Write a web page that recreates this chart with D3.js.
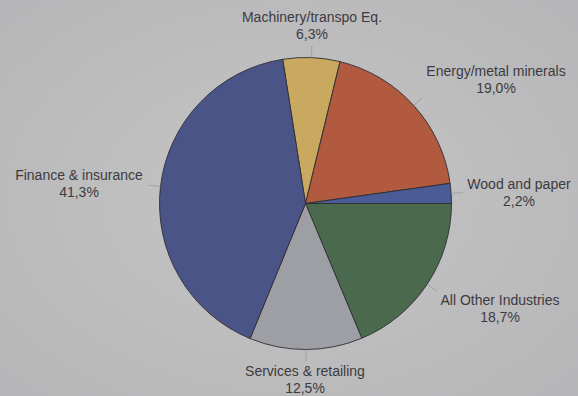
<!DOCTYPE html>
<html>
<head>
<meta charset="utf-8">
<script src="https://cdn.jsdelivr.net/npm/d3@7/dist/d3.min.js"></script>
<style>
  html, body { margin: 0; padding: 0; background: #bdbcbd; }
  svg { display: block; }
</style>
</head>
<body>
<svg id="chart" width="578" height="396"></svg>
<script>
// ---- data ----
const categories = ["Machinery/transpo Eq.", "Energy/metal minerals", "Wood and paper",
                    "All Other Industries", "Services & retailing", "Finance & insurance"];
const values = [6.3, 19.0, 2.2, 18.7, 12.5, 41.3];
const valueLabels = ["6,3%", "19,0%", "2,2%", "18,7%", "12,5%", "41,3%"];
const colors = ["#c9a85f", "#b15a40", "#4a5b96", "#4b6a4d", "#9d9fa5", "#4a5486"];

// ---- layout (not data) ----
const W = 578, H = 396;
const cx = 305.5, cy = 203.5, R = 146;
// label text centres (x) and first-line baseline (y)
const labelAnchors = [[312, 22], [496, 76], [519, 189], [500, 305], [305, 376], [79, 180]];
const lineGap = 17;

const svg = d3.select("#chart");

// background paper
const defs = svg.append("defs");
const grad = defs.append("radialGradient").attr("id", "paper")
  .attr("cx", "50%").attr("cy", "50%").attr("r", "70%");
grad.append("stop").attr("offset", "0%").attr("stop-color", "#c6c5c6");
grad.append("stop").attr("offset", "100%").attr("stop-color", "#b6b5b7");
svg.append("rect").attr("width", W).attr("height", H).attr("fill", "url(#paper)");

const startAngle = -(Math.PI * 2) * ((values[0] + values[1] + values[2]) / 100) + Math.PI / 2;

const pie = d3.pie().sort(null).value(d => d)
  .startAngle(startAngle).endAngle(startAngle + Math.PI * 2);
const arcs = pie(values);
const arc = d3.arc().innerRadius(0).outerRadius(R);

const g = svg.append("g").attr("transform", `translate(${cx},${cy})`);

g.selectAll("path.slice").data(arcs).enter().append("path")
  .attr("class", "slice")
  .attr("d", arc)
  .attr("fill", (d, i) => colors[i])
  .attr("stroke", "#2e2e33")
  .attr("stroke-width", 0.9)
  .attr("stroke-linejoin", "round");

// leader lines
g.selectAll("line.leader").data(arcs).enter().append("line")
  .attr("class", "leader")
  .attr("x1", d => Math.sin((d.startAngle + d.endAngle) / 2) * R)
  .attr("y1", d => -Math.cos((d.startAngle + d.endAngle) / 2) * R)
  .attr("x2", d => Math.sin((d.startAngle + d.endAngle) / 2) * (R + 12))
  .attr("y2", d => -Math.cos((d.startAngle + d.endAngle) / 2) * (R + 12))
  .attr("stroke", "#9a999b")
  .attr("stroke-width", 0.8);

// labels
const lbl = svg.append("g")
  .attr("font-family", "'Liberation Sans', Arial, sans-serif")
  .attr("font-size", 14)
  .attr("fill", "#3c3b3e")
  .attr("text-anchor", "middle");

categories.forEach((c, i) => {
  const t = lbl.append("text").attr("x", labelAnchors[i][0]).attr("y", labelAnchors[i][1]);
  t.append("tspan").attr("x", labelAnchors[i][0]).text(c);
  t.append("tspan").attr("x", labelAnchors[i][0]).attr("dy", lineGap).text(valueLabels[i]);
});
</script>
</body>
</html>
